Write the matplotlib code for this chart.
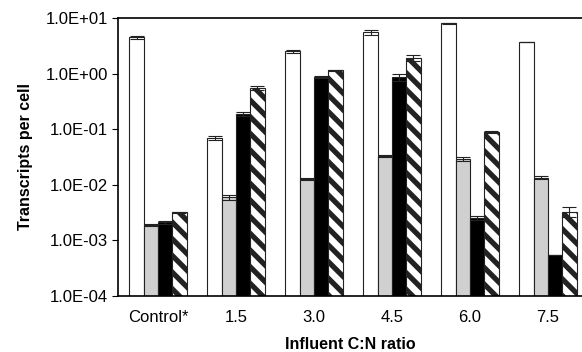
import numpy as np
import matplotlib
matplotlib.use('Agg')
import matplotlib.pyplot as plt
from matplotlib.ticker import FixedLocator, FuncFormatter

plt.rcParams['font.family'] = ['Liberation Sans', 'DejaVu Sans']
plt.rcParams['hatch.linewidth'] = 3.8

# Data (transcripts per cell)
groups = ['Control*', '1.5', '3.0', '4.5', '6.0', '7.5']
white_vals = [4.5, 0.070, 2.5, 5.5, 8.0, 3.7]
white_err = [0.3, 0.006, 0.2, 0.6, 0.2, 0.05]
gray_vals = [1.9e-3, 6.0e-3, 0.0127, 0.033, 0.029, 0.0135]
gray_err = [0.1e-3, 0.6e-3, 0.0005, 0.001, 0.002, 0.0008]
black_vals = [2.1e-3, 0.19, 0.87, 0.87, 2.5e-3, 5.5e-4]
black_err = [0.1e-3, 0.015, 0.05, 0.12, 0.2e-3, 0.0]
hatch_vals = [3.2e-3, 0.55, 1.15, 1.9, 0.09, 3.3e-3]
hatch_err = [0.05e-3, 0.04, 0.03, 0.25, 0.003, 0.7e-3]

yticks = [1e-4, 1e-3, 1e-2, 1e-1, 1e0, 1e1]

fig = plt.figure(figsize=(5.82, 3.52), dpi=100)
ax = fig.add_axes([0.2027, 0.159, 0.7973, 0.79])

x = np.arange(len(groups))
w = 0.183
series = [
    (white_vals, white_err, 'white', None),
    (gray_vals, gray_err, '#d0d0d0', None),
    (black_vals, black_err, 'black', None),
    (hatch_vals, hatch_err, 'white', '\\\\'),
]
for i, (vals, err, col, hatch) in enumerate(series):
    pos = x + (i - 1.5) * w
    ax.bar(pos, vals, width=w, color=col, edgecolor='#222222',
           linewidth=0.8, hatch=hatch)
    ax.errorbar(pos, vals, yerr=err, fmt='none', ecolor='#222222',
                elinewidth=0.8, capsize=5, capthick=0.8)

ax.set_yscale('log')
ax.set_ylim(1e-4, 1e1)
ax.set_xlim(-0.513, 5.436)
ax.yaxis.set_major_locator(FixedLocator(yticks))
ax.yaxis.set_minor_locator(FixedLocator([]))
ax.yaxis.set_major_formatter(FuncFormatter(
    lambda v, p: '1.0E%+03d' % int(round(np.log10(v)))))
ax.set_xticks(x)
ax.set_xticklabels(groups)
ax.tick_params(axis='x', length=0, pad=10, labelsize=12)
ax.tick_params(axis='y', direction='out', length=4, width=0.8, labelsize=12,
               pad=3)
ax.spines['right'].set_visible(False)
for s in ['left', 'top', 'bottom']:
    ax.spines[s].set_linewidth(1.2)

ax.set_ylabel('Transcripts per cell', fontsize=11.5, fontweight='bold', labelpad=9)
ax.set_xlabel('Influent C:N ratio', fontsize=11.5, fontweight='bold', labelpad=9)

fig.savefig('out.png', dpi=100)
